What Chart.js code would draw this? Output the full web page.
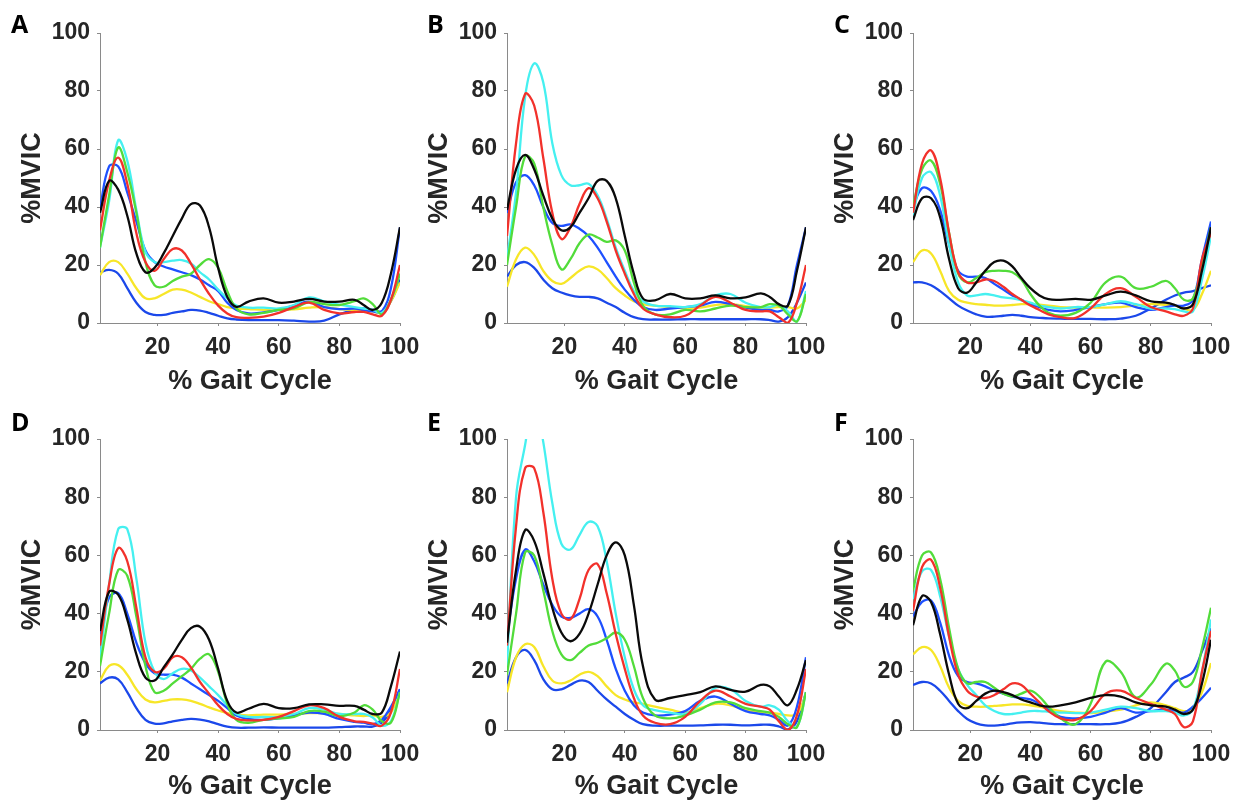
<!DOCTYPE html>
<html>
<head>
<meta charset="utf-8">
<script src="https://cdn.jsdelivr.net/npm/chart.js@4"></script>
<style>
  body { margin: 0; background: #fff; width: 1253px; height: 803px; position: relative; overflow: hidden; }
  canvas { position: absolute; }
  .tag { position: absolute; font: 700 25px/25px "Open Sans", sans-serif; color: #000; }
</style>
</head>
<body>
<script>
// % gait cycle sample points shared by every curve
const X = [1, 4, 7, 10, 13, 16, 19, 22, 25, 28, 31, 34, 37, 40, 43, 46, 50, 55, 60, 65, 70, 75, 80, 85, 88, 91, 94, 97, 100];
const xTicks = [20, 40, 60, 80, 100];

// panel A
const aBlack  = [38, 49, 46, 37, 24, 17.5, 19, 24, 30, 36, 41, 40.5, 33, 19, 9, 5.6, 7.4, 8.5, 7, 7.4, 8.3, 7.4, 7.4, 8, 6.2, 4.5, 7, 17, 33];
const aRed    = [32, 49, 57, 48, 31, 21, 18, 22, 25.5, 25, 20.5, 15, 10, 6, 3.3, 2, 1.8, 2.2, 3.5, 5.5, 7, 4.5, 3.3, 3.8, 3.8, 3, 2.5, 8, 20];
const aGreen  = [26, 44, 60.5, 52, 38, 21, 13, 12.5, 14.5, 16, 17, 20, 22, 19, 11, 5, 3, 3.5, 4.5, 5, 7.2, 6.5, 6.2, 7.5, 8.5, 6.5, 3, 8, 17];
const aCyan   = [26, 42, 63, 56, 39, 24.5, 21, 21, 21.5, 21.7, 20.5, 17.5, 15, 11.5, 8.5, 6, 5.3, 5.3, 5, 6.2, 8.8, 7.5, 6.3, 5.5, 5, 4.5, 3.5, 8, 17];
const aBlue   = [39.5, 54, 54, 45, 35, 25, 21, 19.5, 18.5, 17.5, 16.5, 15, 13, 11, 7, 4.5, 3.3, 3.7, 4.5, 6, 7.4, 5.5, 4.8, 5, 4.5, 4, 4, 12, 33];
const aYellow = [16.5, 21, 21, 17, 12, 8.5, 8.5, 10, 11.5, 11.5, 10.5, 9, 7.5, 6.5, 5.5, 5, 4.8, 4.5, 4.5, 4.7, 5.3, 5.5, 4.8, 4.5, 4.5, 4, 3.5, 7.5, 14];
const aNavy   = [17.4, 18.3, 17, 12, 7, 3.8, 2.8, 2.8, 3.5, 4, 4.5, 4.3, 3.5, 2.5, 1.6, 1.2, 1, 1, 1, 0.8, 0.5, 0.8, 3, 4.5, 5, 4.5, 4, 7.5, 15];

// panel B
const bBlack  = [39, 53, 58, 53, 44, 36, 32, 33, 38, 43, 49, 49, 43, 30, 17, 8.5, 7.8, 10, 8.5, 8.5, 9.5, 8.5, 8.8, 10.2, 9, 6.5, 6, 18, 33];
const bRed    = [30, 62, 79, 75, 57, 38, 29, 33, 41, 46.5, 43, 35, 25, 17, 10, 5, 3, 2, 2.5, 6, 9, 7, 4.5, 4, 4, 2, 0, 7, 20];
const bGreen  = [20, 40, 57.5, 55, 40, 27, 18.5, 22, 27.5, 30.5, 29.5, 28, 28.5, 25, 14, 6, 3, 3, 4.5, 4, 5, 6, 5.5, 5.5, 6.5, 6, 3, 0.5, 10];
const bCyan   = [22, 45, 78, 89.5, 83, 62, 51, 47.5, 47.5, 48, 44, 36, 26, 18, 11, 7.5, 6, 5.8, 5.5, 6.5, 9.5, 10, 7, 5.5, 5.5, 6.2, 4, 0.5, 11];
const bBlue   = [38, 48.5, 51, 47.5, 40, 34.5, 33.5, 34, 32.5, 30, 26, 21, 16, 11.5, 8, 5.5, 4.5, 5, 5.5, 6, 7.3, 6.5, 5.3, 4.5, 4.5, 4, 6, 20, 33];
const bYellow = [12.5, 22, 26, 23.5, 18, 14.5, 13.5, 15.5, 18, 19.5, 18.5, 15.5, 12, 9.5, 7.5, 6.5, 6, 5.5, 5, 5.3, 6.2, 6.5, 5.8, 5.3, 5.3, 5.5, 5.5, 5, 8];
const bNavy   = [16, 20, 21, 19, 15, 12, 10.5, 9.5, 9, 9, 8.5, 7, 5.5, 3.5, 2, 1.3, 1.2, 1.2, 1.3, 1.3, 1.3, 1.3, 1.3, 1.3, 1, 0.5, 2, 7, 14];

// panel C
const cBlack  = [35.5, 43, 43, 36.5, 22, 12, 10.5, 14, 18, 21, 21.5, 19.5, 15.5, 12, 9.5, 8.2, 8, 8.3, 8, 9.5, 10.8, 9.5, 7.5, 7, 6.2, 5, 6.5, 18, 33];
const cRed    = [38, 55, 59.5, 50, 31, 17.5, 14, 14, 15, 14.5, 12.5, 10, 8, 6, 4.5, 3, 2, 1.8, 5, 10, 12, 9, 5.5, 4, 3, 2.5, 5, 22, 31];
const cGreen  = [40, 53, 56, 48, 31, 17, 14, 15.5, 17.5, 18, 18, 17.5, 15, 10, 6, 3.5, 2.5, 3.5, 7, 14, 16, 12, 12.5, 14.5, 12, 8, 8.5, 20, 33];
const cCyan   = [37, 50, 52, 44, 27, 14, 9.5, 9.5, 10, 9.5, 8.8, 8.5, 7.8, 7, 6, 5.5, 5, 5.5, 5.5, 6.5, 7.5, 6.5, 5, 5, 4.8, 4, 4, 15, 30];
const cBlue   = [40, 46.5, 45.5, 39, 27, 18, 16, 16, 15.5, 13.5, 11.5, 9.5, 8, 6.5, 5.5, 4.5, 4, 4.5, 5.5, 6.5, 7, 5.5, 4.5, 5.5, 6, 6, 8, 22, 35];
const cYellow = [21, 25, 24, 18, 11, 8, 7, 6.5, 6.3, 6, 6, 6.2, 6.5, 6.5, 6.3, 6, 5.5, 5.3, 5.3, 5.3, 5.5, 6, 6.5, 6.3, 6, 5, 4.5, 10, 18];
const cNavy   = [14, 14, 13, 11, 8.5, 6, 4.3, 3, 2.2, 2.2, 2.5, 2.8, 2.5, 2, 1.8, 1.6, 1.5, 1.4, 1.4, 1.3, 1.5, 2.5, 5, 8, 9.5, 10.5, 11, 12, 13];

// panel D
const dBlack  = [34, 47.5, 46.5, 38, 26, 18, 17, 21.5, 26, 31, 35, 35.5, 31, 21, 10, 6, 7.3, 9, 7.5, 7.5, 8.8, 8.8, 8.3, 8.3, 7, 5.5, 6, 15, 27];
const dRed    = [29, 50, 62.5, 58, 42, 25, 20, 21, 25, 25, 21.5, 16.5, 12.5, 8.5, 5.5, 3.8, 3.3, 3.5, 4.5, 6.5, 8.5, 7.5, 4.5, 3, 2.8, 2.2, 1.5, 6, 21];
const dGreen  = [22, 40, 55, 53, 39, 22, 13, 13.5, 16, 18.5, 21, 24.5, 26, 20, 9, 3.5, 2.5, 3.5, 4, 4.5, 6.5, 6.3, 4.8, 6, 8.5, 7, 3, 2.5, 13];
const dCyan   = [24, 50, 69, 69, 52, 30, 20, 17.5, 19.5, 21, 20.5, 18, 15, 12, 8.5, 5.5, 4.5, 4.5, 4.5, 5.5, 7.5, 7, 5.5, 5.5, 5.5, 4.3, 1.5, 3, 13];
const dBlue   = [33, 45.5, 47, 40, 30, 23, 19.5, 19, 19, 18, 16, 14, 12, 10, 7.5, 5, 3.8, 3.5, 4, 5, 6, 5.5, 3.8, 2.8, 2.5, 2, 3.5, 8, 14];
const dYellow = [17, 22, 22.3, 19, 14, 10.5, 9.5, 10, 10.5, 10.5, 10, 9, 7.8, 6.7, 5.8, 5.3, 5, 5.3, 5.3, 5.5, 5.8, 5.8, 5.5, 5, 4.8, 5, 4.5, 6, 13];
const dNavy   = [16, 18, 17.4, 13, 7.5, 3.5, 2.2, 2.3, 3, 3.5, 3.8, 3.6, 3, 2, 1.2, 0.8, 0.8, 0.9, 0.8, 0.8, 0.8, 0.8, 1, 1.2, 1.2, 1.2, 2.5, 7, 14];

// panel E
const eBlack  = [30, 55, 68.7, 65, 54, 42, 33.5, 30.5, 33, 40, 50, 60, 64.5, 60, 43, 22, 10.5, 11, 12, 13, 15, 13.8, 13.2, 15.5, 15, 11.5, 8.5, 14, 24];
const eRed    = [29, 70, 90, 90, 75, 52, 40, 38, 45, 55, 57, 47, 33, 21, 11, 5, 2.5, 2, 4.5, 10, 13.5, 11.5, 9, 8, 7, 3, 0, 5, 21];
const eGreen  = [19, 40, 61, 60, 48, 34, 26, 24, 26.5, 29, 30, 31.5, 33.5, 31, 22, 11, 5, 4, 5, 7, 9.5, 9.5, 7.5, 6.5, 6, 4.5, 2, 1, 13];
const eCyan   = [22, 80, 98, 115, 99, 78, 64, 62, 67, 71.5, 70, 58, 40, 25, 14, 8.5, 6.8, 6, 5.5, 9, 14.5, 14, 10, 8, 8.5, 7, 3, 1, 13];
const eBlue   = [32, 52, 62, 58, 50, 43, 39, 38.5, 40, 41.5, 39, 31, 21, 13.5, 8.5, 6, 5, 5.3, 6.5, 10, 11.5, 9, 6.5, 5.5, 5, 3.5, 1.5, 8, 25];
const eYellow = [13, 25, 29.5, 28.5, 22, 17, 16, 17, 19, 20, 18.5, 15, 12, 10.5, 9.5, 9, 8, 7, 6, 7.5, 9, 8.5, 7, 6, 6, 5.5, 5, 5.5, 12];
const eNavy   = [16, 25, 27.5, 24, 17.5, 14, 14, 15.5, 17, 16.5, 13.5, 10.5, 8, 5.5, 3.5, 2, 1.5, 1.5, 1.5, 1.6, 1.8, 1.8, 1.6, 1.8, 1.8, 1.2, 0.2, 3, 13];

// panel F
const fBlack  = [36, 46, 44, 33, 19, 9, 7.5, 10, 12.5, 13.5, 13, 12, 10.5, 9.5, 8.5, 8, 8.5, 9.5, 11, 12, 11.5, 9.5, 8.5, 8, 7, 5.5, 7, 16, 31];
const fRed    = [41, 56, 58.5, 49, 32, 19, 13.5, 11.5, 11, 12, 14, 16, 15.5, 12.5, 9.5, 6.5, 4, 3.5, 6.5, 12.5, 13.5, 11, 9, 7, 5.5, 1, 3, 20, 34];
const fGreen  = [48, 60, 61, 52, 35, 21, 16, 16.5, 16.5, 14.5, 12.5, 11.5, 12.5, 13.5, 11.5, 8, 4, 2, 9, 23.5, 20, 11.2, 15.6, 22.8, 20.4, 14.9, 16.6, 28, 42];
const fCyan   = [45, 54.5, 55, 46, 32, 21, 15.5, 12, 8.5, 6.5, 5.5, 5.5, 6, 6.5, 6.5, 6.3, 6, 5.8, 6, 7, 8, 7.5, 6.5, 6.5, 6, 5, 7, 20, 38];
const fBlue   = [39, 44, 44.5, 37, 25.5, 18.5, 16.5, 16, 15, 13.5, 12.5, 11.5, 11, 10.5, 9, 7, 4.5, 4, 4.5, 6, 7.5, 6, 6.5, 7, 6.5, 6, 8, 11, 14.5];
const fYellow = [26, 28.5, 27.5, 22, 14.5, 10, 8.3, 8, 8, 8.3, 8.5, 8.8, 8.8, 8.5, 8, 7.3, 6.5, 6, 5.8, 6.3, 7, 8.5, 9.5, 8.5, 7.5, 6.5, 7.5, 13, 23];
const fNavy   = [15.5, 16.5, 16, 13.5, 10, 6.5, 3.8, 2.3, 1.6, 1.5, 1.8, 2.3, 2.6, 2.7, 2.5, 2.2, 2, 2, 2, 2, 2.5, 4.5, 7.5, 13, 16.5, 18, 20, 27, 35];

// first colour is drawn on top
const colors = ['#0a0a0a', '#f2312b', '#52dc3a', '#45f0f0', '#1e50ff', '#f7e628', '#1b48ea'];

const textColor = '#262626';
const axisGray = '#8a8a8a';
const tickFont = { family: '"Liberation Sans", Arial, sans-serif', weight: 'bold', size: 23 };
const titleFont = { family: '"Liberation Sans", Arial, sans-serif', weight: 'bold', size: 27 };

const panels = [
  { tag: 'A', left: 100, right: 400, top: 33, bottom: 323, rowTop: 0, rowH: 400, tagX: 11, tagY: 11,
    series: [aBlack, aRed, aGreen, aCyan, aBlue, aYellow, aNavy] },
  { tag: 'B', left: 507, right: 806, top: 33, bottom: 323, rowTop: 0, rowH: 400, tagX: 427, tagY: 11,
    series: [bBlack, bRed, bGreen, bCyan, bBlue, bYellow, bNavy] },
  { tag: 'C', left: 913, right: 1211, top: 33, bottom: 323, rowTop: 0, rowH: 400, tagX: 834, tagY: 11,
    series: [cBlack, cRed, cGreen, cCyan, cBlue, cYellow, cNavy] },
  { tag: 'D', left: 100, right: 400, top: 439, bottom: 730, rowTop: 400, rowH: 403, tagX: 11, tagY: 409,
    series: [dBlack, dRed, dGreen, dCyan, dBlue, dYellow, dNavy] },
  { tag: 'E', left: 507, right: 806, top: 439, bottom: 730, rowTop: 400, rowH: 403, tagX: 427, tagY: 409,
    series: [eBlack, eRed, eGreen, eCyan, eBlue, eYellow, eNavy] },
  { tag: 'F', left: 913, right: 1211, top: 439, bottom: 730, rowTop: 400, rowH: 403, tagX: 834, tagY: 409,
    series: [fBlack, fRed, fGreen, fCyan, fBlue, fYellow, fNavy] }
];

panels.forEach(p => {
  const canvas = document.createElement('canvas');
  const w = p.right - p.left + 130;
  canvas.width = w;
  canvas.height = p.rowH;
  canvas.style.left = (p.left - 100) + 'px';
  canvas.style.top = p.rowTop + 'px';
  document.body.appendChild(canvas);

  const tag = document.createElement('div');
  tag.className = 'tag';
  tag.textContent = p.tag;
  tag.style.left = p.tagX + 'px';
  tag.style.top = p.tagY + 'px';
  document.body.appendChild(tag);

  const xHeight = p.rowH - (p.bottom - p.rowTop);

  new Chart(canvas.getContext('2d'), {
    type: 'line',
    data: {
      datasets: p.series.map((ys, i) => ({
        data: X.map((x, j) => ({ x: x, y: ys[j] })),
        borderColor: colors[i],
        borderWidth: 2.3,
        pointRadius: 0,
        fill: false,
        tension: 0.4
      }))
    },
    options: {
      responsive: false,
      animation: false,
      events: [],
      layout: { padding: { top: p.top - p.rowTop, right: 30, bottom: 0, left: 0 } },
      plugins: { legend: { display: false }, tooltip: { enabled: false } },
      scales: {
        x: {
          type: 'linear',
          min: 1,
          max: 100,
          afterBuildTicks: s => { s.ticks = xTicks.map(v => ({ value: v })); },
          afterFit: s => { s.height = xHeight; },
          grid: { drawOnChartArea: false, drawTicks: true, tickLength: 3, color: axisGray },
          border: { color: axisGray, width: 1 },
          ticks: { padding: 8, color: textColor, font: tickFont, maxRotation: 0, autoSkip: false },
          title: { display: true, text: '% Gait Cycle', color: textColor, font: titleFont,
                   padding: { top: 0, bottom: p.rowTop === 0 ? 2 : 0 } }
        },
        y: {
          min: 0,
          max: 100,
          afterFit: s => { s.width = 100; },
          grid: { drawOnChartArea: false, drawTicks: true, tickLength: 3, color: axisGray },
          border: { color: axisGray, width: 1 },
          ticks: { stepSize: 20, padding: 7, color: textColor, font: tickFont },
          title: { display: true, text: '%MVIC', color: textColor, font: titleFont,
                   padding: { top: 16, bottom: 0 } }
        }
      }
    }
  });
});
</script>
</body>
</html>
